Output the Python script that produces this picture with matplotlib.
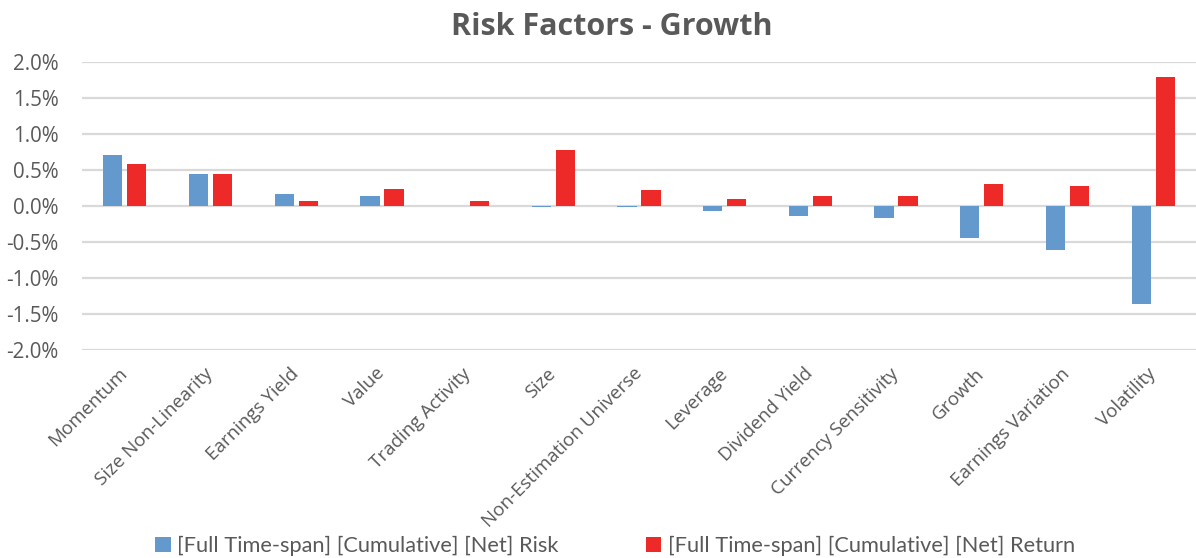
import matplotlib
matplotlib.use("Agg")
import matplotlib.pyplot as plt
import numpy as np
from matplotlib.ticker import FuncFormatter
from matplotlib.patches import Patch

categories = ["Momentum", "Size Non-Linearity", "Earnings Yield", "Value",
              "Trading Activity", "Size", "Non-Estimation Universe", "Leverage",
              "Dividend Yield", "Currency Sensitivity", "Growth",
              "Earnings Variation", "Volatility"]
risk = [0.71, 0.445, 0.167, 0.143, 0.0, -0.02, -0.015, -0.065, -0.135,
        -0.167, -0.446, -0.609, -1.356]
ret = [0.575, 0.445, 0.074, 0.237, 0.074, 0.77, 0.213, 0.097, 0.143,
       0.134, 0.297, 0.269, 1.79]
yticks = [-2.0, -1.5, -1.0, -0.5, 0.0, 0.5, 1.0, 1.5, 2.0]
series_names = ["[Full Time-span] [Cumulative] [Net] Risk",
                "[Full Time-span] [Cumulative] [Net] Return"]

BLUE = "#6399CC"
RED = "#EE2A29"
GRAY = "#595959"
GRID = "#D9D9D9"

plt.rcParams["font.family"] = ["Open Sans", "DejaVu Sans"]

fig = plt.figure(figsize=(11.96, 5.58), dpi=100)
ax = fig.add_axes([82 / 1196, 1 - 350 / 558, 1 - 82 / 1196, (350 - 61.7) / 558])

x = np.arange(len(categories))
w = 0.225
ax.bar(x - 0.14, risk, width=w, color=BLUE, zorder=3)
ax.bar(x + 0.14, ret, width=w, color=RED, zorder=3)

ax.set_xlim(-0.5, len(categories) - 0.5)
ax.set_ylim(-2.0, 2.0)
ax.set_yticks(yticks)
ax.yaxis.set_major_formatter(FuncFormatter(lambda v, _: f"{v:.1f}%"))
ax.grid(axis="y", color=GRID, linewidth=1.6, zorder=0)
for s in ax.spines.values():
    s.set_visible(False)
ax.tick_params(axis="both", length=0)
ax.tick_params(axis="y", pad=17, labelsize=14.8, labelcolor=GRAY)

ax.set_xticks(x)
ax.set_xticklabels(categories, rotation=45, ha="right", va="center",
                   rotation_mode="anchor", fontsize=13.5, color=GRAY)
ax.tick_params(axis="x", pad=15)

fig.text(612 / 1196, 1 - 27 / 558, "Risk Factors - Growth", ha="center",
         va="center", fontsize=22, fontweight="bold", color=GRAY)

handles = [Patch(facecolor=BLUE), Patch(facecolor=RED)]
fig.legend(handles, series_names, loc="center", bbox_to_anchor=(615 / 1196, 1 - 546 / 558),
           ncol=2, frameon=False, handlelength=0.7, handleheight=0.7,
           handletextpad=0.3, columnspacing=4.0,
           prop={"family": "Lato", "size": 15.7}, labelcolor=GRAY)

fig.savefig("out.png", dpi=100)
